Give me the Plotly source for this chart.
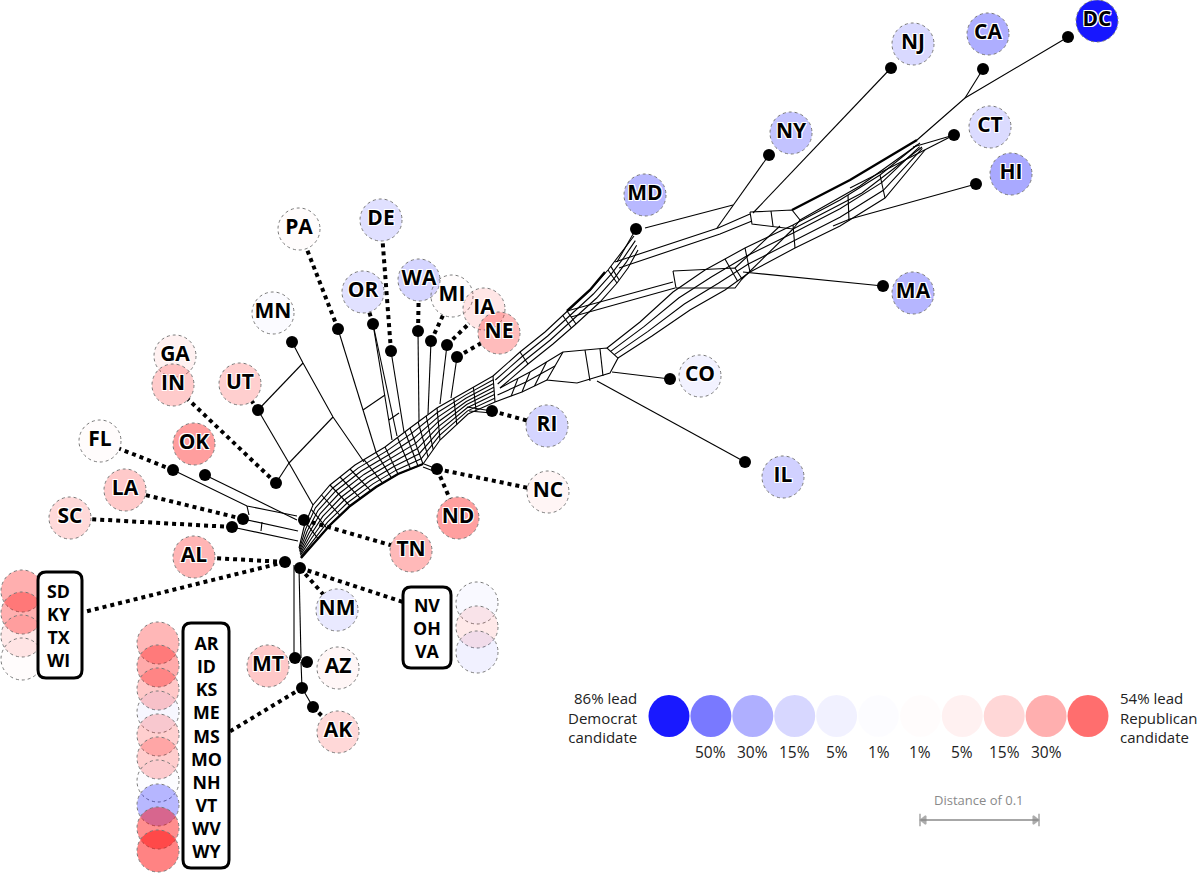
import math
import plotly.graph_objects as go

# ---------------- data ----------------
# single states: code, vote margin (Dem minus Rep, % points), label circle centre
state_codes = ["DC", "CA", "NJ", "CT", "HI", "NY", "MD", "MA", "CO", "IL", "RI", "NC", "ND", "TN",
               "AL", "NM", "MT", "AZ", "AK", "OK", "FL", "LA", "SC", "GA", "IN", "UT", "MN", "PA",
               "DE", "OR", "WA", "MI", "IA", "NE"]
state_margin = [86.8, 30.1, 14.1, 13.6, 32.2, 22.5, 26.4, 27.2, 4.9, 17.1, 15.5, -3.7, -35.7, -26.0,
                -27.7, 8.2, -20.4, -3.5, -14.7, -36.4, -1.2, -19.6, -14.3, -5.1, -19.2, -18.1, 1.5, -0.7,
                11.4, 11.0, 15.7, -0.2, -9.4, -25.0]
label_x = [1097, 988, 913, 990, 1011, 791, 645, 913, 700, 783, 547, 548, 458, 411,
           194, 337, 268, 338, 338, 194, 100, 125, 70, 175, 173, 240, 273, 299,
           381, 363, 419, 452, 484, 499]
label_y = [21, 34, 44, 127, 174, 133, 195, 293, 376, 477, 426, 492, 518, 551,
           557, 610, 666, 668, 732, 444, 441, 490, 518, 356, 385, 384, 313, 229,
           220, 292, 280, 296, 309, 333]

# grouped states (boxes)
group1_codes = ["SD", "KY", "TX", "WI"]
group1_margin = [-29.8, -29.8, -9.0, -0.8]
group1_y = [591, 613, 636, 659]
group2_codes = ["AR", "ID", "KS", "ME", "MS", "MO", "NH", "VT", "WV", "WY"]
group2_margin = [-26.9, -31.8, -20.6, 3.0, -17.8, -18.6, 0.4, 26.4, -42.1, -46.3]
group2_y = [643, 666, 689, 712, 735, 758, 781, 805, 828, 851]
group3_codes = ["NV", "OH", "VA"]
group3_margin = [2.4, -8.1, 5.3]
group3_y = [603, 627, 652]
group_circle_x = [22, 158, 477]
group_text_x = [59, 206, 427]
group_box = [(38, 572, 82, 678), (183, 623, 229, 868), (403, 587, 451, 668)]

# leaf nodes (black dots)
node_names = ["DC", "CA", "NJ", "CT", "HI", "NY", "MD", "MA", "CO", "IL", "RI", "NCND", "TN",
              "ALG1", "NMG3", "MT", "AZ", "G2", "AK", "OK", "FL", "LA", "SC", "INGA", "UT", "MN",
              "PA", "DE", "OR", "WA", "MI", "IA", "NE"]
node_x = [1068, 983, 891, 954, 976, 769, 636, 883, 670, 745, 492, 437, 304,
          285, 300, 295, 307, 302, 313, 205, 173, 243, 232, 276, 258, 292,
          338, 391, 373, 418, 431, 447, 457]
node_y = [37, 69, 68, 135, 184, 155, 229, 286, 379, 462, 411, 469, 520,
          562, 568, 658, 662, 688, 707, 475, 470, 519, 527, 483, 410, 342,
          329, 351, 324, 331, 341, 345, 357]

# dotted connectors: node -> state label
dotted_from = ["RI", "NCND", "NCND", "TN", "ALG1", "NMG3", "AK", "FL", "LA", "SC", "INGA", "UT",
               "PA", "DE", "OR", "WA", "MI", "IA", "NE"]
dotted_to = ["RI", "NC", "ND", "TN", "AL", "NM", "AK", "FL", "LA", "SC", "IN", "UT",
             "PA", "DE", "OR", "WA", "MI", "IA", "NE"]
# dotted connectors: node -> box edge
box_link_from = ["ALG1", "G2", "NMG3"]
box_link_x = [84, 229, 403]
box_link_y = [612, 732, 602]

# splits-network: bands (two rails with interpolated strands and rungs)
bandA_top = [(299, 548), (304, 527), (313, 505), (330, 485), (355, 465), (385, 447), (410, 428),
             (437, 408), (465, 392), (493, 376)]
bandA_bot = [(301, 558), (315, 542), (330, 525), (350, 506), (376, 487), (398, 474), (423, 464),
             (440, 440), (468, 414), (495, 402)]
bandA_rungs = [1.2, 1.8, 2.5, 3, 3.4, 3.8, 4.3, 4.7, 5, 5.5, 5.8, 6, 6.3, 6.6, 7, 7.6, 8.3, 9]
bandB_top = [(493, 376), (520, 352), (545, 332), (567, 311), (590, 290), (608, 270), (622, 252), (634, 236)]
bandB_bot = [(500, 388), (528, 364), (553, 344), (576, 324), (600, 302), (617, 283), (628, 268), (638, 250)]
bandB_rungs = [1, 2.8, 3, 5, 5.2]
bandC_top = [(500, 388), (530, 372), (563, 352)]
bandC_bot = [(495, 402), (522, 392), (547, 380)]
bandC_rungs = [0.6, 1, 1.5]
bandD_top = [(607, 348), (640, 322), (673, 292), (705, 270), (745, 248), (793, 225), (840, 200), (880, 175), (917, 145)]
bandD_bot = [(618, 358), (652, 336), (690, 310), (725, 290), (750, 272), (795, 248), (840, 226), (885, 198), (925, 150)]
bandD_rungs = [3.5, 4, 5, 6.2, 7]

# other network lines (polylines)
net_lines = [
    [(563, 352), (607, 348), (618, 358), (610, 373), (577, 383), (547, 380), (563, 352)],
    [(585, 350), (590, 381)], [(600, 349), (603, 376)],
    [(567, 311), (673, 282)], [(571, 317), (675, 288)],
    [(615, 262), (718, 228), (750, 214)], [(619, 268), (720, 234), (752, 221)],
    [(673, 271), (735, 268), (742, 279), (735, 288), (676, 288), (673, 271)],
    [(750, 212), (792, 210), (800, 220), (793, 229), (752, 224), (750, 212)], [(771, 211), (773, 226)],
    [(800, 220), (860, 186), (920, 143)], [(793, 229), (862, 193), (922, 147)],
    [(742, 279), (793, 229)], [(735, 268), (780, 226)],
    [(645, 228), (733, 205)],
    [(363, 410), (385, 395)], [(389, 420), (399, 413)],
]
net_thick = [
    [(792, 210), (850, 180), (917, 140)],
    [(301, 558), (315, 542), (330, 525), (350, 506), (376, 487), (398, 474), (423, 464)],
    [(567, 311), (590, 290), (605, 272)],
]
leaf_lines = [
    [(1068, 37), (965, 98), (917, 140)], [(983, 69), (965, 98)], [(891, 68), (753, 213)],
    [(954, 135), (913, 147)], [(954, 135), (850, 188)], [(976, 184), (850, 219), (833, 226)],
    [(769, 155), (717, 228)], [(636, 229), (617, 262)], [(883, 286), (743, 272)],
    [(670, 379), (612, 372)], [(745, 462), (597, 381)],
    [(492, 411), (467, 407)], [(492, 413), (469, 411)], [(437, 469), (424, 464)], [(436, 472), (423, 467)],
    [(294, 565), (294, 655)], [(299, 568), (301, 658)], [(301, 662), (302, 688)], [(302, 688), (313, 707)],
    [(173, 470), (247, 506), (297, 516)], [(247, 506), (249, 515)], [(205, 475), (297, 520)],
    [(243, 519), (298, 531)], [(232, 527), (298, 541)], [(262, 522), (261, 531)],
    [(276, 483), (289, 463)], [(289, 463), (313, 505)], [(258, 410), (289, 463)],
    [(258, 410), (303, 363)], [(292, 342), (303, 363), (333, 417), (364, 462)], [(289, 463), (333, 417)],
    [(338, 329), (376, 452)], [(373, 324), (392, 440)], [(373, 324), (397, 436)],
    [(391, 351), (404, 432)], [(418, 331), (419, 421)], [(431, 341), (428, 414)],
    [(447, 345), (440, 404)], [(457, 357), (451, 398)],
]

# colour legend
legend_margin = [86, 50, 30, 15, 5, 1, -1, -5, -15, -30, -54]
legend_tick_text = ["", "50%", "30%", "15%", "5%", "1%", "1%", "5%", "15%", "30%", ""]
legend_left_text = ["86% lead", "Democrat", "candidate"]
legend_right_text = ["54% lead", "Republican", "candidate"]
scale_bar_label = "Distance of 0.1"

# ---------------- helpers ----------------
R = 21
FONT = "Open Sans"
HALO = "1px 1px 0 #fff, -1px -1px 0 #fff, 1px -1px 0 #fff, -1px 1px 0 #fff, 0 1px 0 #fff, 0 -1px 0 #fff"


def fill_for(m):
    a = min(0.92, max(0.012, abs(m) / 100 * 1.05))
    return f"rgba(0,0,255,{a:.3f})" if m > 0 else f"rgba(255,0,0,{a:.3f})"


def lerp(p, q, t):
    return (p[0] + (q[0] - p[0]) * t, p[1] + (q[1] - p[1]) * t)


def rail_pt(rail, s):
    i = min(int(s), len(rail) - 2)
    return lerp(rail[i], rail[i + 1], s - i)


def band(top, bot, n, rungs):
    segs = []
    for k in range(n):
        t = k / (n - 1)
        segs.append([lerp(a, b, t) for a, b in zip(top, bot)])
    for r in rungs:
        segs.append([rail_pt(top, r), rail_pt(bot, r)])
    return segs


def to_xy(polys):
    xs, ys = [], []
    for p in polys:
        for x, y in p:
            xs.append(x)
            ys.append(y)
        xs.append(None)
        ys.append(None)
    return xs, ys


def rrect(x0, y0, x1, y1, r):
    return (f"M{x0+r},{y0} L{x1-r},{y0} Q{x1},{y0} {x1},{y0+r} L{x1},{y1-r} Q{x1},{y1} {x1-r},{y1} "
            f"L{x0+r},{y1} Q{x0},{y1} {x0},{y1-r} L{x0},{y0+r} Q{x0},{y0} {x0+r},{y0} Z")


fig = go.Figure()
shapes = []


def circle(cx, cy, m, r=R):
    shapes.append(dict(type="circle", xref="x", yref="y", x0=cx - r, x1=cx + r, y0=cy - r, y1=cy + r,
                       fillcolor=fill_for(m), layer="below",
                       line=dict(color="#7a7a7a", width=1, dash="dot")))


for c, m, x, y in zip(state_codes, state_margin, label_x, label_y):
    circle(x, y, m)
groups = [(group1_codes, group1_margin, group1_y), (group2_codes, group2_margin, group2_y),
          (group3_codes, group3_margin, group3_y)]
for gi, (codes, ms, ys) in enumerate(groups):
    for m, y in zip(ms, ys):
        circle(group_circle_x[gi], y, m)
for gi, (x0, y0, x1, y1) in enumerate(group_box):
    shapes.append(dict(type="path", xref="x", yref="y", path=rrect(x0, y0, x1, y1, 8),
                       fillcolor="white", line=dict(color="black", width=3), layer="below"))

# legend circles
leg_x0, leg_dx, leg_y = 669, 41.9, 716
for i, m in enumerate(legend_margin):
    cx = leg_x0 + i * leg_dx
    shapes.append(dict(type="circle", xref="x", yref="y", x0=cx - 20.5, x1=cx + 20.5, y0=leg_y - 21,
                       y1=leg_y + 21, fillcolor=fill_for(m), line=dict(width=0), layer="below"))

# network
net = []
net += band(bandA_top, bandA_bot, 8, bandA_rungs)
net += band(bandB_top, bandB_bot, 4, bandB_rungs)
net += band(bandC_top, bandC_bot, 3, bandC_rungs)
net += band(bandD_top, bandD_bot, 4, bandD_rungs)
net += net_lines
xs, ys = to_xy(net)
fig.add_trace(go.Scatter(x=xs, y=ys, mode="lines", line=dict(color="black", width=1.1), hoverinfo="skip"))
xs, ys = to_xy(net_thick)
fig.add_trace(go.Scatter(x=xs, y=ys, mode="lines", line=dict(color="black", width=2.4), hoverinfo="skip"))
xs, ys = to_xy(leaf_lines)
fig.add_trace(go.Scatter(x=xs, y=ys, mode="lines", line=dict(color="black", width=1.1), hoverinfo="skip"))

# dotted connectors
node_pos = {n: (x, y) for n, x, y in zip(node_names, node_x, node_y)}
lab_pos = {c: (x, y) for c, x, y in zip(state_codes, label_x, label_y)}
dots = []
for f, t in zip(dotted_from, dotted_to):
    x0, y0 = node_pos[f]
    x1, y1 = lab_pos[t]
    d = math.hypot(x1 - x0, y1 - y0)
    if d > R + 2:
        k = (d - R) / d
        dots.append([(x0, y0), (x0 + (x1 - x0) * k, y0 + (y1 - y0) * k)])
for f, bx, by in zip(box_link_from, box_link_x, box_link_y):
    dots.append([node_pos[f], (bx, by)])
xs, ys = to_xy(dots)
fig.add_trace(go.Scatter(x=xs, y=ys, mode="lines", line=dict(color="black", width=4, dash="dot"),
                         hoverinfo="skip"))

# black nodes
fig.add_trace(go.Scatter(x=node_x, y=node_y, mode="markers",
                         marker=dict(size=12, color="black", line=dict(width=0)), hoverinfo="skip"))

# state labels
lab_font = dict(family=FONT, size=21, color="black", weight=700, shadow=HALO)
fig.add_trace(go.Scatter(x=label_x, y=label_y, mode="text", text=state_codes, textfont=lab_font,
                         textposition="middle center", hoverinfo="skip"))

# legend / box texts as annotations
anns = []
for gi, (codes, ms, ys_) in enumerate(groups):
    anns.append(dict(x=group_text_x[gi], y=(ys_[0] + ys_[-1]) / 2,
                     text="<br>".join(f"<b>{c}</b>" for c in codes),
                     xanchor="center", yanchor="middle", align="center", showarrow=False,
                     font=dict(family=FONT, size=17.8, color="black")))
leg_font = dict(family=FONT, size=15, color="#222")
anns += [
    dict(x=639, y=717, text="<br>".join(legend_left_text), xanchor="right", yanchor="middle",
         align="right", showarrow=False, font=leg_font),
    dict(x=1118, y=717, text="<br>".join(legend_right_text), xanchor="left", yanchor="middle",
         align="left", showarrow=False, font=leg_font),
]
for i, t in enumerate(legend_tick_text):
    if t:
        anns.append(dict(x=leg_x0 + i * leg_dx, y=752, text=t, xanchor="center", yanchor="middle",
                         showarrow=False, font=dict(family=FONT, size=15.5, color="#222")))
anns.append(dict(x=979, y=800, text=scale_bar_label, xanchor="center", yanchor="middle", showarrow=False,
                 font=dict(family=FONT, size=13, color="#8a8a8a")))
for a in anns:
    a["xref"] = "x"
    a["yref"] = "y"

# scale bar
fig.add_trace(go.Scatter(x=[921, 1038], y=[820, 820], mode="lines", line=dict(color="#8a8a8a", width=1.6),
                         hoverinfo="skip"))
fig.add_trace(go.Scatter(x=[924, 1035, 920, 1039], y=[820, 820, 820, 820], mode="markers",
                         marker=dict(symbol=["triangle-left", "triangle-right", "line-ns", "line-ns"],
                                     size=[7, 7, 9, 9], color="#8a8a8a",
                                     line=dict(color="#8a8a8a", width=1.6)), hoverinfo="skip"))

fig.update_layout(
    width=1200, height=875, autosize=False, margin=dict(l=0, r=0, t=0, b=0),
    paper_bgcolor="white", plot_bgcolor="white", showlegend=False,
    xaxis=dict(range=[0, 1200], visible=False, fixedrange=True),
    yaxis=dict(range=[875, 0], visible=False, fixedrange=True),
    shapes=shapes, annotations=anns,
)
fig.write_html("out.html", config={"displayModeBar": False},
               post_script="document.body.style.margin='0px';")
